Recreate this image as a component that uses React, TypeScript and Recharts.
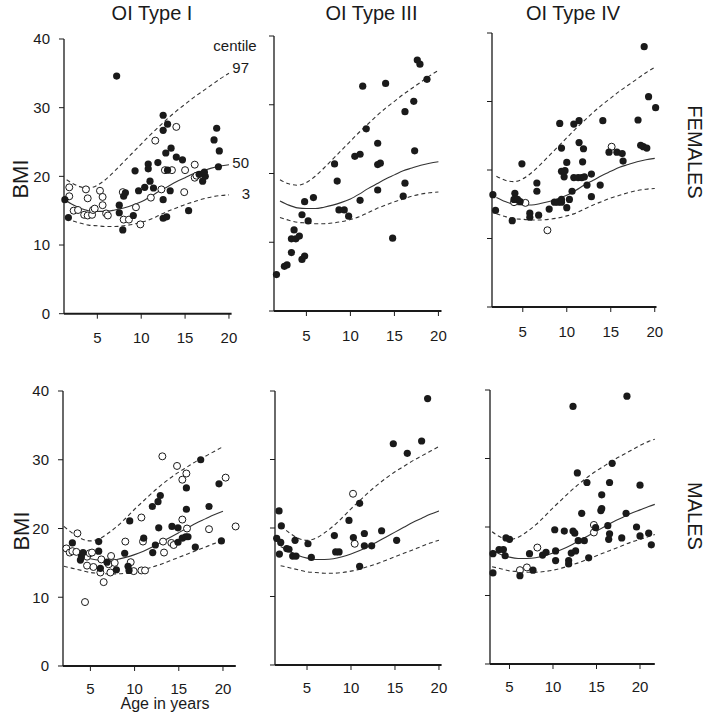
import React from 'react';
import { ComposedChart, Line, Scatter, XAxis, YAxis } from 'recharts';

type Pt = [number, number];

// ---------- tick labels / texts ----------
const ageTicks = [5, 10, 15, 20];
const bmiTicks = [0, 10, 20, 30, 40];
const colTitles = ['OI Type I', 'OI Type III', 'OI Type IV'];
const rowLabels = ['FEMALES', 'MALES'];
const centileLabels = ['97', '50', '3'];

// ---------- reference centile curves ----------
const femaleAges = [1.5, 2, 3, 4, 5, 6, 7, 8, 9, 10, 11, 12, 13, 14, 15, 16, 17, 18, 19, 20];
const femaleP3 = [13.9, 13.6, 13.2, 12.9, 12.8, 12.7, 12.7, 12.8, 13.0, 13.3, 13.7, 14.3, 14.9, 15.4, 15.9, 16.3, 16.7, 17.0, 17.2, 17.3];
const femaleP50 = [16.4, 16.0, 15.4, 15.0, 14.9, 14.9, 15.1, 15.4, 15.8, 16.3, 17.0, 17.8, 18.5, 19.2, 19.8, 20.4, 20.8, 21.2, 21.5, 21.7];
const femaleP97 = [19.5, 19.1, 18.5, 18.3, 18.7, 19.6, 20.8, 22.1, 23.4, 24.7, 26.0, 27.2, 28.4, 29.5, 30.5, 31.5, 32.4, 33.3, 34.2, 35.0];

const maleAges = [2, 3, 4, 5, 6, 7, 8, 9, 10, 11, 12, 13, 14, 15, 16, 17, 18, 19, 20, 21, 21.7];
const maleP3 = [14.5, 14.2, 13.9, 13.6, 13.5, 13.4, 13.4, 13.5, 13.7, 14.0, 14.4, 14.8, 15.3, 15.8, 16.3, 16.8, 17.3, 17.8, 18.2, 18.6, 18.9];
const maleP50 = [17.3, 16.6, 16.0, 15.6, 15.4, 15.4, 15.5, 15.8, 16.2, 16.7, 17.3, 18.0, 18.7, 19.4, 20.1, 20.8, 21.4, 22.0, 22.5, 23.0, 23.3];
const maleP97 = [20.3, 19.3, 18.5, 18.2, 18.5, 19.3, 20.3, 21.5, 22.8, 24.0, 25.2, 26.3, 27.3, 28.2, 29.0, 29.8, 30.5, 31.2, 31.9, 32.5, 32.8];

// ---------- patients [age, BMI] ----------
const femI_filled: Pt[] = [
  [1.7, 14.0], [1.3, 16.6], [7.2, 34.6], [7.5, 15.8], [7.5, 14.7], [7.9, 12.2], [8.0, 17.1], [8.2, 17.6],
  [9.1, 14.3], [9.3, 20.8], [9.7, 17.9], [10.4, 18.4], [10.8, 21.8], [10.8, 21.1], [11.0, 19.3], [11.4, 18.3],
  [11.9, 22.0], [12.5, 28.9], [12.5, 26.7], [12.5, 16.6], [12.5, 13.9], [12.8, 23.4], [12.9, 14.1], [13.0, 27.6],
  [13.0, 20.9], [13.3, 17.9], [13.4, 24.1], [14.0, 22.8], [14.7, 22.4], [15.4, 15.0], [16.6, 20.3], [17.0, 19.3],
  [17.3, 20.0], [17.2, 20.6], [18.3, 25.3], [18.6, 27.0], [18.9, 23.7], [18.8, 21.4],
];
const femI_open: Pt[] = [
  [1.8, 18.4], [1.8, 17.1], [2.3, 15.0], [2.8, 15.1], [3.7, 18.1], [3.9, 16.8], [3.5, 14.4], [3.9, 14.3],
  [4.4, 14.4], [4.5, 15.1], [4.7, 15.3], [5.3, 17.9], [5.6, 17.0], [5.6, 15.8], [6.0, 14.6], [6.2, 14.3],
  [7.9, 17.7], [8.0, 13.7], [8.6, 13.7], [9.4, 15.5], [9.9, 13.0], [11.1, 16.9], [11.6, 25.2], [12.3, 18.1],
  [12.7, 20.9], [13.5, 20.9], [14.0, 27.2], [14.9, 17.7], [15.0, 20.9], [16.1, 21.7], [16.1, 19.8], [16.3, 20.1],
];
const femIII_filled: Pt[] = [
  [1.6, 5.3], [2.5, 6.5], [2.8, 6.7], [3.3, 8.5], [3.3, 10.5], [3.8, 10.5], [3.6, 11.8], [4.2, 10.9],
  [4.5, 7.5], [4.8, 8.0], [4.5, 14.0], [4.8, 15.9], [5.2, 13.1], [5.8, 16.5], [8.2, 21.4], [8.5, 18.9],
  [8.7, 14.7], [9.3, 14.7], [9.8, 13.8], [10.5, 22.5], [11.1, 22.8], [11.1, 16.1], [11.4, 32.7], [11.8, 26.5],
  [13.1, 24.4], [13.1, 17.6], [13.1, 21.3], [13.4, 21.5], [14.0, 33.1], [14.8, 10.6], [16.0, 16.7], [16.2, 18.6],
  [16.2, 29.0], [17.2, 30.5], [17.3, 23.3], [17.6, 36.5], [17.9, 35.9], [18.7, 33.7],
];
const femIII_open: Pt[] = [];
const femIV_filled: Pt[] = [
  [1.6, 16.4], [1.9, 14.1], [3.8, 12.6], [4.1, 16.6], [4.0, 15.7], [4.4, 15.7], [4.7, 15.4], [4.9, 20.9],
  [5.8, 13.7], [5.8, 13.1], [6.6, 18.1], [6.6, 16.9], [6.8, 13.4], [8.0, 14.3], [8.6, 15.3], [9.0, 15.3],
  [9.2, 26.8], [9.4, 15.3], [9.4, 15.7], [9.4, 23.2], [9.4, 19.8], [9.7, 19.0], [9.8, 19.9], [10.0, 21.1],
  [10.0, 14.5], [10.3, 15.7], [10.6, 16.9], [10.8, 18.9], [10.8, 26.7], [11.3, 18.9], [11.4, 27.2], [11.4, 24.0],
  [11.7, 18.9], [11.9, 23.1], [11.8, 21.2], [12.0, 19.0], [12.3, 17.8], [12.8, 19.4], [12.8, 16.1], [13.8, 17.8],
  [14.1, 27.2], [14.8, 22.6], [15.7, 22.6], [16.3, 22.4], [16.4, 21.3], [18.1, 27.3], [18.4, 23.6], [18.7, 23.4],
  [19.1, 23.2], [18.8, 38.0], [19.3, 30.7], [20.1, 29.1],
];
const femIV_open: Pt[] = [[4.0, 15.3], [5.3, 15.2], [7.8, 11.2], [15.1, 23.4]];

const malI_filled: Pt[] = [
  [2.96, 17.9], [3.87, 15.4], [3.98, 15.9], [4.17, 16.5], [5.94, 18.1], [5.94, 16.7], [6.13, 14.2], [6.88, 15.1],
  [7.94, 14.0], [8.88, 16.4], [9.26, 14.5], [9.37, 13.9], [9.45, 21.1], [11.03, 18.6], [12.01, 23.2], [12.05, 16.5],
  [12.35, 17.6], [12.65, 23.9], [12.91, 24.8], [12.73, 20.1], [14.23, 20.3], [14.91, 20.1], [14.91, 18.0], [15.4, 18.6],
  [15.78, 18.8], [16.04, 18.8], [15.86, 25.9], [15.86, 22.8], [16.87, 17.3], [17.48, 30.0], [18.42, 23.2], [19.55, 26.5],
  [19.82, 18.2],
];
const malI_open: Pt[] = [
  [2.28, 17.1], [2.66, 16.5], [2.96, 16.7], [3.53, 19.3], [3.41, 16.6], [4.62, 14.6], [4.62, 15.9], [4.92, 16.4],
  [5.18, 16.5], [5.34, 14.4], [4.39, 9.3], [6.24, 15.5], [6.13, 13.6], [6.5, 12.2], [7.07, 14.8], [7.34, 16.0],
  [7.26, 13.6], [7.75, 15.0], [8.95, 18.1], [9.56, 15.1], [9.9, 13.8], [10.77, 21.6], [10.95, 18.1], [10.77, 13.9],
  [11.18, 13.9], [13.14, 30.5], [13.22, 18.1], [13.33, 16.5], [14.16, 17.9], [14.42, 17.6], [14.8, 29.1], [15.4, 27.1],
  [15.86, 28.0], [15.4, 21.3], [15.93, 20.0], [18.42, 19.9], [20.3, 27.4], [21.43, 20.3],
];
const malIII_filled: Pt[] = [
  [1.55, 18.5], [1.82, 22.5], [2.08, 20.3], [2.01, 17.9], [1.86, 16.2], [2.69, 17.0], [2.95, 16.9], [3.37, 15.9],
  [3.75, 15.9], [3.64, 18.2], [5.11, 17.7], [5.49, 15.7], [8.11, 18.9], [8.26, 16.5], [8.64, 16.5], [9.77, 21.1],
  [10.27, 18.6], [10.98, 23.6], [10.98, 14.4], [11.52, 19.2], [11.52, 17.4], [12.35, 17.4], [13.48, 19.6], [14.81, 32.3],
  [15.19, 18.2], [16.4, 30.9], [18.03, 32.7], [18.71, 38.9],
];
const malIII_open: Pt[] = [[10.23, 25.0], [10.42, 17.7]];
const malIV_filled: Pt[] = [
  [3.1, 16.1], [3.1, 13.3], [3.8, 16.7], [4.3, 16.7], [4.5, 15.8], [4.6, 18.4], [5.0, 18.2], [6.2, 12.9],
  [7.3, 16.1], [7.7, 13.7], [8.8, 15.9], [9.2, 16.3], [10.2, 19.6], [10.3, 16.5], [10.3, 15.1], [11.3, 19.4],
  [11.8, 15.1], [11.8, 14.6], [12.1, 16.2], [12.3, 19.4], [12.5, 19.1], [12.3, 37.6], [12.6, 16.5], [12.8, 27.9],
  [12.9, 18.0], [13.3, 22.0], [13.6, 18.0], [13.9, 26.5], [14.1, 15.5], [14.9, 19.9], [15.5, 22.4], [15.6, 22.7],
  [15.6, 24.7], [16.3, 20.2], [16.4, 18.2], [16.5, 19.0], [16.5, 26.5], [16.8, 29.3], [17.9, 18.4], [18.4, 22.0],
  [18.5, 39.1], [19.6, 20.0], [20.0, 18.7], [20.0, 26.1], [21.0, 19.1], [21.3, 17.4],
];
const malIV_open: Pt[] = [[6.2, 13.7], [7.0, 14.1], [8.2, 17.0], [14.7, 20.3], [14.7, 19.2]];

// ---------- layout (page pixels) ----------
const FONT = '"Liberation Sans", Arial, Helvetica, sans-serif';
const INK = '#1a1a1a';

interface PanelSpec {
  filled: Pt[];
  open: Pt[];
  sex: 'F' | 'M';
  xDomain: [number, number];
  curveFrom: number;
  curveTo: number;
  l: number; r: number; t: number; b: number;
  yLabels: boolean;
  xMargin: number;
}

const panels: PanelSpec[] = [
  { filled: femI_filled, open: femI_open, sex: 'F', xDomain: [1.2, 20.3], curveFrom: 1.5, curveTo: 20, l: 64, r: 231.6, t: 39.3, b: 314, yLabels: true, xMargin: 14 },
  { filled: femIII_filled, open: femIII_open, sex: 'F', xDomain: [1.32, 20.35], curveFrom: 2, curveTo: 20, l: 274.3, r: 441.8, t: 35.7, b: 310.7, yLabels: false, xMargin: 14 },
  { filled: femIV_filled, open: femIV_open, sex: 'F', xDomain: [1.5, 20.2], curveFrom: 2, curveTo: 20, l: 491.5, r: 656, t: 32.7, b: 306.7, yLabels: false, xMargin: 14 },
  { filled: malI_filled, open: malI_open, sex: 'M', xDomain: [1.9, 21.45], curveFrom: 2, curveTo: 20.8, l: 63.3, r: 236.1, t: 391, b: 666, yLabels: true, xMargin: 12 },
  { filled: malIII_filled, open: malIII_open, sex: 'M', xDomain: [1.36, 20.3], curveFrom: 2, curveTo: 20.3, l: 275, r: 441.6, t: 391, b: 665, yLabels: false, xMargin: 12 },
  { filled: malIV_filled, open: malIV_open, sex: 'M', xDomain: [2.76, 21.7], curveFrom: 3, curveTo: 21.7, l: 490, r: 654.8, t: 390, b: 664, yLabels: false, xMargin: 12 },
];

const toPts = (arr: Pt[]) => arr.map(([x, y]) => ({ x, y }));

const curve = (ages: number[], vals: number[], from: number, to: number) =>
  ages.map((a, i) => ({ x: a, y: vals[i] })).filter((p) => p.x >= from - 1e-9 && p.x <= to + 1e-9);

const FilledDot = (p: any) => <circle cx={p.cx} cy={p.cy} r={3.6} fill={INK} />;
const OpenDot = (p: any) => <circle cx={p.cx} cy={p.cy} r={3.5} fill="#fff" stroke={INK} strokeWidth={1} />;

function Panel({ s }: { s: PanelSpec }) {
  const YW = 60, MT = 10, MR = 12, XH = 40;
  const w = s.r - s.l + YW + MR;
  const h = s.b - s.t + MT + XH;
  const ages = s.sex === 'F' ? femaleAges : maleAges;
  const p3 = s.sex === 'F' ? femaleP3 : maleP3;
  const p50 = s.sex === 'F' ? femaleP50 : maleP50;
  const p97 = s.sex === 'F' ? femaleP97 : maleP97;
  const tickStyle = { fill: INK, fontSize: 15, fontFamily: FONT };
  return (
    <div style={{ position: 'absolute', left: s.l - YW, top: s.t - MT }}>
      <ComposedChart width={w} height={h} margin={{ top: MT, right: MR, bottom: 0, left: 0 }}>
        <XAxis
          type="number"
          dataKey="x"
          domain={s.xDomain}
          ticks={ageTicks}
          interval={0}
          height={XH}
          axisLine={{ stroke: INK, strokeWidth: 2 }}
          tickLine={{ stroke: INK, strokeWidth: 1 }}
          tickSize={5}
          tickMargin={s.xMargin}
          tick={tickStyle}
        />
        <YAxis
          type="number"
          dataKey="y"
          domain={[0, 40]}
          ticks={bmiTicks}
          interval={0}
          width={YW}
          axisLine={{ stroke: INK, strokeWidth: 1.3 }}
          tickLine={{ stroke: INK, strokeWidth: 1 }}
          tickSize={5}
          tickMargin={9}
          tick={tickStyle}
          tickFormatter={(v: number) => (s.yLabels ? String(v) : '')}
        />
        <Line data={curve(ages, p97, s.curveFrom, s.curveTo)} dataKey="y" type="monotone" stroke="#333" strokeWidth={1.1} strokeDasharray="4 3" dot={false} activeDot={false} isAnimationActive={false} />
        <Line data={curve(ages, p50, s.curveFrom, s.curveTo)} dataKey="y" type="monotone" stroke="#333" strokeWidth={1.1} dot={false} activeDot={false} isAnimationActive={false} />
        <Line data={curve(ages, p3, s.curveFrom, s.curveTo)} dataKey="y" type="monotone" stroke="#333" strokeWidth={1.1} strokeDasharray="4 3" dot={false} activeDot={false} isAnimationActive={false} />
        <Scatter data={toPts(s.open)} shape={OpenDot} isAnimationActive={false} />
        <Scatter data={toPts(s.filled)} shape={FilledDot} isAnimationActive={false} />
      </ComposedChart>
    </div>
  );
}

export default function App() {
  return (
    <div style={{ position: 'absolute', left: 0, top: 0, width: 708, height: 720, background: '#fff', overflow: 'hidden' }}>
      <svg width={708} height={720} style={{ position: 'absolute', left: 0, top: 0 }} fontFamily={FONT} fill={INK}>
        <text x={152} y={20} fontSize={20} textAnchor="middle">{colTitles[0]}</text>
        <text x={371.5} y={20} fontSize={20} textAnchor="middle">{colTitles[1]}</text>
        <text x={573} y={20} fontSize={20} textAnchor="middle">{colTitles[2]}</text>
        <text x={235} y={51} fontSize={15} textAnchor="middle">centile</text>
        <text x={249} y={73} fontSize={15} textAnchor="end">{centileLabels[0]}</text>
        <text x={249} y={168} fontSize={15} textAnchor="end">{centileLabels[1]}</text>
        <text x={250} y={199} fontSize={15} textAnchor="end">{centileLabels[2]}</text>
        <text x={0} y={0} fontSize={22} textAnchor="middle" transform="translate(28,179) rotate(-90)">BMI</text>
        <text x={0} y={0} fontSize={22} textAnchor="middle" transform="translate(29,531) rotate(-90)">BMI</text>
        <text x={0} y={0} fontSize={20} textAnchor="middle" transform="translate(688,152) rotate(90)">{rowLabels[0]}</text>
        <text x={0} y={0} fontSize={20} textAnchor="middle" transform="translate(688,516) rotate(90)">{rowLabels[1]}</text>
        <text x={165} y={709} fontSize={16} textAnchor="middle">Age in years</text>
      </svg>
      {panels.map((s, i) => (
        <Panel key={i} s={s} />
      ))}
    </div>
  );
}
